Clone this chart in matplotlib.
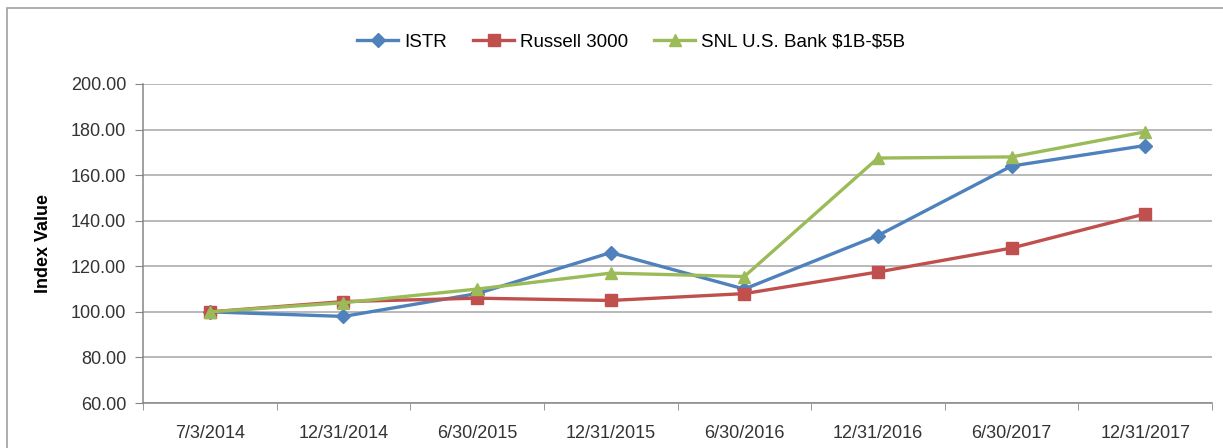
import numpy as np
import matplotlib
matplotlib.use("Agg")
import matplotlib.pyplot as plt
from matplotlib.patches import Rectangle

dates = ['7/3/2014', '12/31/2014', '6/30/2015', '12/31/2015',
         '6/30/2016', '12/31/2016', '6/30/2017', '12/31/2017']
istr = [100.0, 98.0, 108.0, 126.0, 110.0, 133.5, 164.0, 173.0]
russell = [100.0, 104.5, 106.0, 105.0, 108.0, 117.5, 128.0, 143.0]
snl = [100.0, 104.0, 110.0, 117.0, 115.5, 167.5, 168.0, 179.0]

plt.rcParams['font.family'] = ['Liberation Sans', 'DejaVu Sans']

fig = plt.figure(figsize=(12.23, 4.48), dpi=100)
# rahmen um das diagramm (rechts/unten abgeschnitten)
fig.patches.append(Rectangle((0.006, -0.1), 1.2, 1.1 - 8 / 448, transform=fig.transFigure,
                             fill=False, edgecolor='#A0A0A0', linewidth=1.2))

ax = fig.add_axes([143 / 1223, 1 - 403 / 448, (1212 - 143) / 1223, (403 - 84) / 448])
x = np.arange(len(dates))

ax.plot(x, istr, color='#4F81BD', lw=2.4, marker='D', ms=7.5, label='ISTR', zorder=3)
ax.plot(x, russell, color='#C0504D', lw=2.4, marker='s', ms=8.5, label='Russell 3000', zorder=3)
ax.plot(x, snl, color='#9BBB59', lw=2.4, marker='^', ms=9, label=r'SNL U.S. Bank \$1B-\$5B', zorder=3)

ax.set_xlim(-0.5, len(dates) - 0.5)
ax.set_ylim(60, 200)
ax.set_yticks(np.arange(60, 201, 20))
ax.set_yticklabels(['%.2f' % v for v in np.arange(60, 201, 20)])
ax.set_xticks(x)
ax.set_xticklabels(dates)
ax.set_xticks(np.arange(-0.5, len(dates), 1), minor=True)
ax.tick_params(axis='x', which='major', length=0, pad=16, labelsize=13, colors='#333333')
ax.tick_params(axis='x', which='minor', length=5, color='#868686')
ax.tick_params(axis='y', length=6, pad=6, labelsize=13, color='#868686', labelcolor='#333333')

ax.grid(axis='y', color='#A6A6A6', lw=1.1)
ax.set_axisbelow(True)
for s in ['top', 'right']:
    ax.spines[s].set_visible(False)
for s in ['left', 'bottom']:
    ax.spines[s].set_color('#868686')
    ax.spines[s].set_linewidth(1.1)

ax.set_ylabel('Index Value', fontsize=13, fontweight='bold', labelpad=14)

fig.legend(loc='center', bbox_to_anchor=(0.516, 0.906), ncol=3, frameon=False,
           fontsize=13.5, handlelength=2.2, columnspacing=1.4, handletextpad=0.3)

fig.savefig('out.png', dpi=100, facecolor='white')
